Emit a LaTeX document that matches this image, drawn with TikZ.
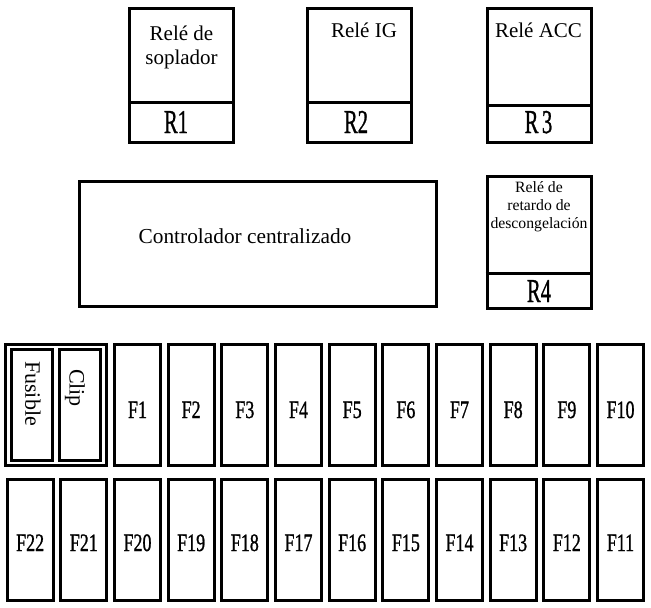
\documentclass[tikz,border=0pt]{standalone}
\usepackage{fontspec}
\setmainfont{Liberation Serif}
\newfontfamily\labelfont[FakeBold=1.2]{Liberation Serif}
\usepackage{graphicx}
\usetikzlibrary{positioning,calc}
\newcommand{\narrowtxt}[2]{\scalebox{#1}[1]{#2}}
\tikzset{
  bx/.style={draw, line width=2.25pt, inner sep=0pt},
  relbox/.style={bx, minimum width=78pt, minimum height=100.5pt},
  fusebox/.style={bx, minimum width=34.5pt, minimum height=90.75pt},
  slotbox/.style={bx, minimum width=30.75pt, minimum height=83.25pt},
  rtitle/.style={font=\fontsize{15.75pt}{18pt}\selectfont, anchor=base, inner sep=0pt},
  rsmall/.style={font=\fontsize{11.8pt}{13.5pt}\selectfont, anchor=base, inner sep=0pt},
  rnum/.style={font=\labelfont\fontsize{25pt}{28pt}\selectfont, anchor=base, inner sep=0pt},
  fnum/.style={font=\labelfont\fontsize{18.75pt}{22pt}\selectfont, anchor=base, inner sep=0pt},
  slottxt/.style={font=\fontsize{16.5pt}{19pt}\selectfont, rotate=-90, inner sep=0pt},
}

\begin{document}
\begin{tikzpicture}[x=0.75pt,y=-0.75pt]
  \useasboundingbox (0,0) rectangle (651,608);
  % reles
  \node[relbox] (r1) at (181.5,75) {};
  \node[relbox] (r2) at (359.5,75) {};
  \node[relbox] (r3) at (539.5,75) {};
  \node[bx, minimum width=78pt, minimum height=99pt] (r4) at (539,242.5) {};
  \draw[line width=2.25pt] (r1.west |- 0,102) -- (r1.east |- 0,102);
  \draw[line width=2.25pt] (r2.west |- 0,102) -- (r2.east |- 0,102);
  \draw[line width=2.25pt] (r3.west |- 0,105) -- (r3.east |- 0,105);
  \draw[line width=2.25pt] (r4.west |- 0,273) -- (r4.east |- 0,273);
  \node[rtitle] (r1a) at (181.5,40) {Relé de};
  \node[rtitle] (r1b) at (181.5,64) {soplador};
  \node[rtitle] (r2a) at (364,37) {Relé IG};
  \node[rtitle] (r3a) at (538.5,37) {Relé ACC};
  \node[rsmall] (r4a) at (539,192) {Relé de};
  \node[rsmall] (r4b) at (539,210) {retardo de};
  \node[rsmall] (r4c) at (539,228) {descongelación};
  \node[rnum] (r1n) at (176,133) {\narrowtxt{0.62}{R1}};
  \node[rnum] (r2n) at (356,133) {\narrowtxt{0.62}{R2}};
  \node[rnum] (r3n) at (538.5,133) {\narrowtxt{0.62}{R\,3}};
  \node[rnum] (r4n) at (539,302) {\narrowtxt{0.62}{R4}};
  % controlador
  \node[bx, minimum width=267.75pt, minimum height=93.75pt] (ctrl) at (258,243.5) {};
  \node[font=\fontsize{16pt}{19pt}\selectfont, anchor=base, inner sep=0pt] (ctrlt) at (245,243) {Controlador centralizado};
  % fusible + clip
  \node[bx, minimum width=75.75pt, minimum height=90.75pt] (grp) at (56,405) {};
  \node[slotbox] (fus) at (32,405) {};
  \node[slotbox] (clip) at (80,405) {};
  \node[slottxt] (fust) at (33,393.5) {Fusible};
  \node[slottxt] (clipt) at (75,388) {Clip};
  % fila superior
  \foreach \i in {1,...,10}{
    \node[fusebox] (f\i) at ({137.5+53.67*(\i-1)},405) {};
    \node[fnum] (f\i t) at ({137.5+53.67*(\i-1)},418) {\narrowtxt{0.72}{F\i}};
  }
  % fila inferior
  \foreach \i in {11,...,22}{
    \node[fusebox] (f\i) at ({137.5+53.67*(20-\i)},540) {};
    \node[fnum] (f\i t) at ({137.5+53.67*(20-\i)},551) {\narrowtxt{0.72}{F\i}};
  }
\end{tikzpicture}
\end{document}
